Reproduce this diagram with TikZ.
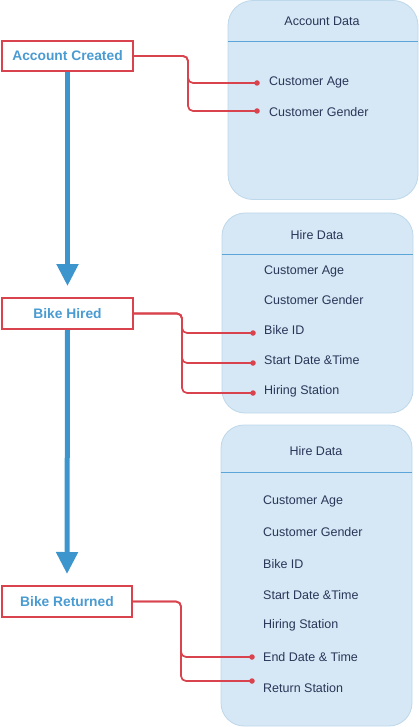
\documentclass[tikz,border=0pt]{standalone}
\usepackage{fontspec}
\setmainfont{Liberation Sans}
\usetikzlibrary{arrows.meta}
\definecolor{redc}{HTML}{D9434D}
\definecolor{labelblue}{HTML}{4A9BD2}
\definecolor{arrowblue}{HTML}{3C95CD}
\definecolor{panelfill}{HTML}{D6E8F5}
\definecolor{paneldraw}{HTML}{BDD7EB}
\definecolor{itemtext}{HTML}{2A3658}
\definecolor{sepline}{HTML}{5BA5D8}
\tikzset{
  eventbox/.style={draw=redc, line width=2pt, fill=white, inner sep=0pt,
    text=labelblue, font=\bfseries\fontsize{13.8}{16}\selectfont},
  panel/.style={draw=paneldraw, line width=0.8pt, fill=panelfill, inner sep=0pt},
  sep/.style={draw=sepline, line width=0.9pt},
  ptitle/.style={text=itemtext, font=\fontsize{12.5}{15}\selectfont, inner sep=0pt},
  item/.style={text=itemtext, font=\fontsize{12.5}{15}\selectfont, inner sep=0pt, anchor=west},
  dotn/.style={circle, fill=redc, inner sep=0pt, minimum size=5.5pt},
  conn/.style={draw=redc, line width=1.7pt, rounded corners=5pt},
  flow/.style={draw=arrowblue, line width=5pt, -{Triangle[width=21pt,length=22pt]}, shorten >=11pt},
}
\begin{document}
\begin{tikzpicture}[x=1pt,y=-1pt]
\useasboundingbox (0,0) rectangle (419,727);
% panels
\node[panel, rounded corners=25pt, minimum width=190pt, minimum height=199pt] (p1) at (323,100) {};
\node[panel, rounded corners=23pt, minimum width=191pt, minimum height=200pt] (p2) at (317.5,313) {};
\node[panel, rounded corners=23pt, minimum width=191pt, minimum height=301pt] (p3) at (316.5,575.5) {};
\draw[sep] (p1.west |- 0,41) -- (p1.east |- 0,41);
\draw[sep] (p2.west |- 0,254) -- (p2.east |- 0,254);
\draw[sep] (p3.west |- 0,472) -- (p3.east |- 0,472);
\node[ptitle] (t1) at (322,21) {Account Data};
\node[ptitle] (t2) at (317,235) {Hire Data};
\node[ptitle] (t3) at (316,451) {Hire Data};
% panel 1 items
\node[item] (a1) at (269,82) {Customer Age};
\node[item] (a2) at (269,112) {Customer Gender};
% panel 2 items
\node[item] (b1) at (264,271) {Customer Age};
\node[item] (b2) at (264,300) {Customer Gender};
\node[item] (b3) at (264,330) {Bike ID};
\node[item] (b4) at (264,360) {Start Date \&Time};
\node[item] (b5) at (264,391) {Hiring Station};
% panel 3 items
\node[item] (c1) at (263,501) {Customer Age};
\node[item] (c2) at (263,532) {Customer Gender};
\node[item] (c3) at (263,564) {Bike ID};
\node[item] (c4) at (263,595) {Start Date \&Time};
\node[item] (c5) at (263,625) {Hiring Station};
\node[item] (c6) at (263,657) {End Date \& Time};
\node[item] (c7) at (263,688) {Return Station};
% event boxes
\node[eventbox, minimum width=131pt, minimum height=30pt] (ac) at (67.5,56) {Account Created};
\node[eventbox, minimum width=131pt, minimum height=31pt] (bh) at (67.5,313.5) {Bike Hired};
\node[eventbox, minimum width=130pt, minimum height=31pt] (br) at (67,601.5) {Bike Returned};
% flow arrows
\draw[flow] (ac.south) -- (bh.north);
\draw[flow] (bh.south) -- (br.north);
% dots
\node[dotn] (da1) at (257,83) {};
\node[dotn] (da2) at (257,111) {};
\node[dotn] (db3) at (253,333) {};
\node[dotn] (db4) at (253,363) {};
\node[dotn] (db5) at (253,393) {};
\node[dotn] (dc6) at (252,657) {};
\node[dotn] (dc7) at (252,681) {};
% junctions
\coordinate (ja) at (188,70);
\coordinate (jb) at (182,325);
\coordinate (jc) at (181,615);
% connectors
\draw[conn] (ac.east) -| (ja) |- (da1.center);
\draw[conn] (ac.east) -| (ja) |- (da2.center);
\draw[conn] (bh.east) -| (jb) |- (db3.center);
\draw[conn] (bh.east) -| (jb) |- (db4.center);
\draw[conn] (bh.east) -| (jb) |- (db5.center);
\draw[conn] (br.east) -| (jc) |- (dc6.center);
\draw[conn] (br.east) -| (jc) |- (dc7.center);
\end{tikzpicture}
\end{document}
